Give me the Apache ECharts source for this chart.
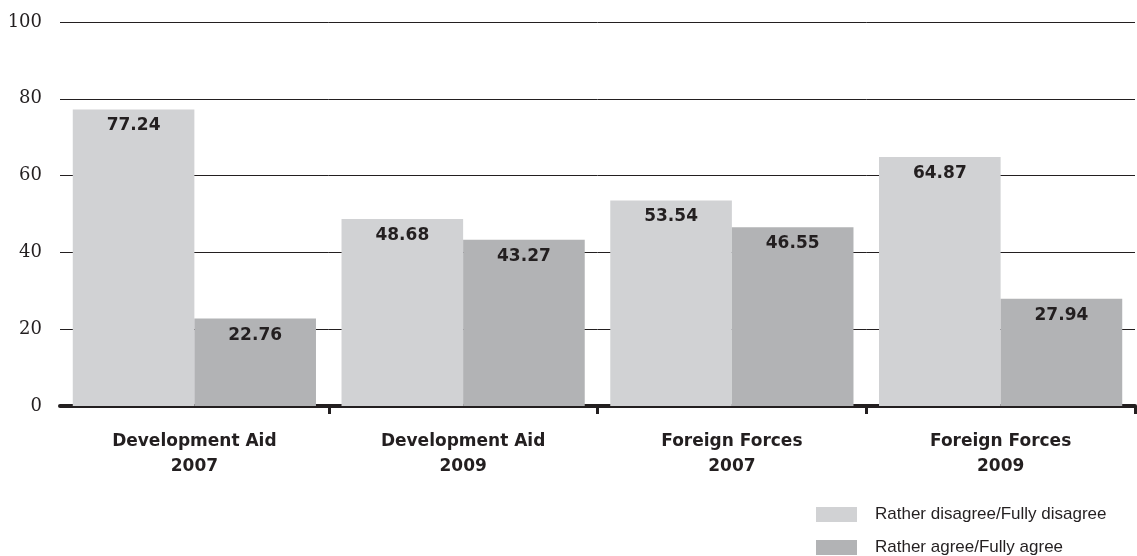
<!DOCTYPE html>
<html><head><meta charset="utf-8">
<script src="https://cdn.jsdelivr.net/npm/echarts@6/dist/echarts.min.js"></script>
<style>html,body{margin:0;padding:0;background:#fff}#c{width:1137px;height:556px}</style>
</head><body><div id="c"></div>
<script>
const categories = ["Development Aid\n2007", "Development Aid\n2009", "Foreign Forces\n2007", "Foreign Forces\n2009"];
const seriesNames = ["Rather disagree/Fully disagree", "Rather agree/Fully agree"];
const disagree = [77.24, 48.68, 53.54, 64.87];
const agree = [22.76, 43.27, 46.55, 27.94];
const yTicks = [0, 20, 40, 60, 80, 100];

const chart = echarts.init(document.getElementById('c'), null, {renderer: 'canvas'});
const labelStyle = {
  show: true, position: 'insideTop', distance: 8,
  fontFamily: 'DejaVu Sans', fontWeight: 'bold', fontSize: 17, color: '#231f20',
  formatter: p => p.value.toFixed(2)
};
chart.setOption({
  animation: false,
  grid: {left: 60, right: 2, top: 22, bottom: 150, containLabel: false},
  legend: {
    orient: 'vertical', left: 816, top: 506, height: 80, padding: 0, itemWidth: 41, itemHeight: 15, itemGap: 16,
    icon: 'rect',
    textStyle: {fontFamily: 'Liberation Sans', fontSize: 17, lineHeight: 15, color: '#231f20', padding: [0, 0, 0, 13]},
    data: seriesNames
  },
  xAxis: {
    type: 'category', data: categories,
    axisLine: {show: true, lineStyle: {color: '#231f20', width: 4}},
    axisTick: {show: true, length: 8, lineStyle: {color: '#231f20', width: 3}, interval: (i) => i > 0},
    axisLabel: {margin: 23, fontFamily: 'DejaVu Sans', fontWeight: 'bold', fontSize: 17, color: '#231f20', lineHeight: 25}
  },
  yAxis: {
    type: 'value', min: yTicks[0], max: yTicks[yTicks.length - 1], interval: 20,
    axisLine: {show: false}, axisTick: {show: false},
    axisLabel: {margin: 18, fontFamily: 'DejaVu Serif', fontSize: 18, color: '#231f20',
      customValues: yTicks},
    splitLine: {show: true, lineStyle: {color: '#231f20', width: 1}}
  },
  series: [
    {name: seriesNames[0], type: 'bar', data: disagree, barGap: '0%', barCategoryGap: '9.5%',
     itemStyle: {color: '#d1d2d4'}, label: labelStyle},
    {name: seriesNames[1], type: 'bar', data: agree,
     itemStyle: {color: '#b2b3b5'}, label: labelStyle}
  ]
});
</script></body></html>
